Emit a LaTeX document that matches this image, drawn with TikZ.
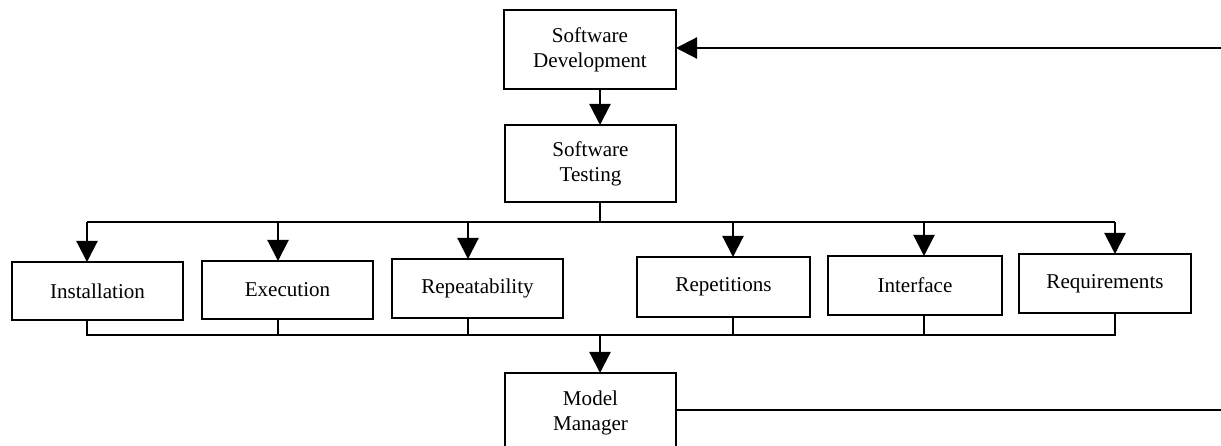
\documentclass[tikz,border=0pt]{standalone}
\usepackage{fontspec}
\setmainfont{Liberation Serif}
\usetikzlibrary{arrows.meta}
\begin{document}
\begin{tikzpicture}[x=0.02cm,y=-0.02cm,
  box/.style={draw,line width=1.2pt,inner sep=0pt,outer sep=0pt,align=center,
    font=\fontsize{12}{14.2}\selectfont},
  ln/.style={line width=1.2pt},
  arr/.style={line width=1.2pt,-{Triangle[length=12pt,width=12pt]}}]
\useasboundingbox (0,0) rectangle (1221,446);
% boxes
\node[box,minimum width=3.44cm,minimum height=1.58cm] (sd) at (590,49.5) {Software\\Development};
\node[box,minimum width=3.42cm,minimum height=1.54cm] (st) at (590.5,163.5) {Software\\Testing};
\node[box,minimum width=3.42cm,minimum height=1.16cm] (inst) at (97.5,291) {Installation};
\node[box,minimum width=3.42cm,minimum height=1.16cm] (exec) at (287.5,290) {Execution};
\node[box,minimum width=3.42cm,minimum height=1.18cm] (rep) at (477.5,288.5) {Repeatability};
\node[box,minimum width=3.46cm,minimum height=1.20cm] (reps) at (723.5,287) {Repetitions};
\node[box,minimum width=3.48cm,minimum height=1.18cm] (intf) at (915,285.5) {Interface};
\node[box,minimum width=3.44cm,minimum height=1.18cm] (req) at (1105,283.5) {Requirements};
\node[box,minimum width=3.42cm,minimum height=1.58cm] (mm) at (590.5,412.5) {Model\\Manager};
% bus coordinates
\coordinate (tb) at (600,222);
\coordinate (bb) at (600,335);
\coordinate (xinst) at (87,0);
\coordinate (xexec) at (278,0);
\coordinate (xrep) at (468,0);
\coordinate (xreps) at (733,0);
\coordinate (xintf) at (924,0);
\coordinate (xreq) at (1115,0);
\coordinate (rin) at (1221,48);
\coordinate (rout) at (1221,410);
% top arrows
\draw[arr] (sd.south -| tb) -- (st.north -| tb);
\draw[ln] (st.south -| tb) -- (tb);
\draw[ln] (tb -| xinst) -- (tb -| xreq);
\draw[arr] (tb -| xinst) -- (inst.north -| xinst);
\draw[arr] (tb -| xexec) -- (exec.north -| xexec);
\draw[arr] (tb -| xrep) -- (rep.north -| xrep);
\draw[arr] (tb -| xreps) -- (reps.north -| xreps);
\draw[arr] (tb -| xintf) -- (intf.north -| xintf);
\draw[arr] (tb -| xreq) -- (req.north -| xreq);
% bottom bus
\draw[ln] (inst.south -| xinst) -- (bb -| xinst) -- (bb -| xreq) -- (req.south -| xreq);
\draw[ln] (exec.south -| xexec) -- (bb -| xexec);
\draw[ln] (rep.south -| xrep) -- (bb -| xrep);
\draw[ln] (reps.south -| xreps) -- (bb -| xreps);
\draw[ln] (intf.south -| xintf) -- (bb -| xintf);
\draw[arr] (bb) -- (mm.north -| bb);
% feedback
\draw[arr] (rin) -- (rin -| sd.east);
\draw[ln] (rout -| mm.east) -- (rout);
\end{tikzpicture}
\end{document}
